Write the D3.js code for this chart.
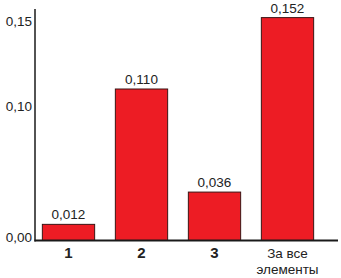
<!DOCTYPE html>
<html><head><meta charset="utf-8">
<script src="https://cdn.jsdelivr.net/npm/d3@7"></script>
<style>body{margin:0;background:#fff}svg{display:block}</style>
</head><body>
<script>
const categories = ["1", "2", "3", "За все элементы"];
const values = [0.012, 0.110, 0.036, 0.152];
const valueLabels = ["0,012", "0,110", "0,036", "0,152"];
const tickValues = [0.00, 0.10, 0.15];
const tickLabels = ["0,00", "0,10", "0,15"];

const W = 341, H = 278;
const svg = d3.select("body").append("svg").attr("width", W).attr("height", H);
const font = "'Liberation Sans', Arial, sans-serif";

const x = d3.scaleBand().domain(categories).range([32, 324]).paddingInner(0.27).paddingOuter(0.135);
// axis in original is not drawn to scale: piecewise-linear between tick marks
const y = d3.scaleLinear().domain([0, 0.10, 0.15]).range([240.5, 106, 21]);

// bars
svg.selectAll("rect.bar").data(values).join("rect")
  .attr("class", "bar")
  .attr("x", (d, i) => x(categories[i]) + 0.5)
  .attr("width", x.bandwidth() - 1)
  .attr("y", d => y(d))
  .attr("height", d => y(0) - y(d))
  .attr("fill", "#ed1c24")
  .attr("stroke", "#3b1414")
  .attr("stroke-width", 1);

// value labels
svg.selectAll("text.val").data(values).join("text")
  .attr("class", "val")
  .attr("x", (d, i) => x(categories[i]) + x.bandwidth() / 2)
  .attr("y", d => y(d) - 5)
  .attr("text-anchor", "middle")
  .attr("font-family", font).attr("font-size", 13.5).attr("fill", "#222")
  .text((d, i) => valueLabels[i]);

// y axis
const yAxis = d3.axisLeft(y).tickValues(tickValues).tickSize(0).tickPadding(3)
  .tickFormat((d, i) => tickLabels[i]);
const gy = svg.append("g").attr("transform", "translate(35,0)").call(yAxis);
gy.select(".domain").remove();
gy.selectAll("text").attr("font-family", font).attr("font-size", 13.5).attr("fill", "#222").attr("dy", "0.36em");
gy.selectAll(".tick").filter(d => d === 0).select("text").attr("dy", "0.1em");

svg.append("line").attr("x1", 35).attr("x2", 35).attr("y1", 9).attr("y2", 241.5)
  .attr("stroke", "#1a1a1a").attr("stroke-width", 1.5);
svg.append("line").attr("x1", 34.5).attr("x2", 338).attr("y1", y(0)).attr("y2", y(0))
  .attr("stroke", "#1a1a1a").attr("stroke-width", 2);

// category labels
categories.forEach((c, i) => {
  const cx = x(c) + x.bandwidth() / 2;
  const t = svg.append("text").attr("x", cx).attr("y", 258)
    .attr("text-anchor", "middle").attr("font-family", font).attr("fill", "#222");
  if (c.length === 1) {
    t.attr("font-size", 15).attr("font-weight", "bold").text(c);
  } else {
    t.attr("font-size", 13.5);
    const parts = c.split(" ");
    t.append("tspan").attr("x", cx).attr("dy", 0).text(parts.slice(0, 2).join(" "));
    t.append("tspan").attr("x", cx).attr("dy", 15.5).text(parts.slice(2).join(" "));
  }
});
</script>
</body></html>
